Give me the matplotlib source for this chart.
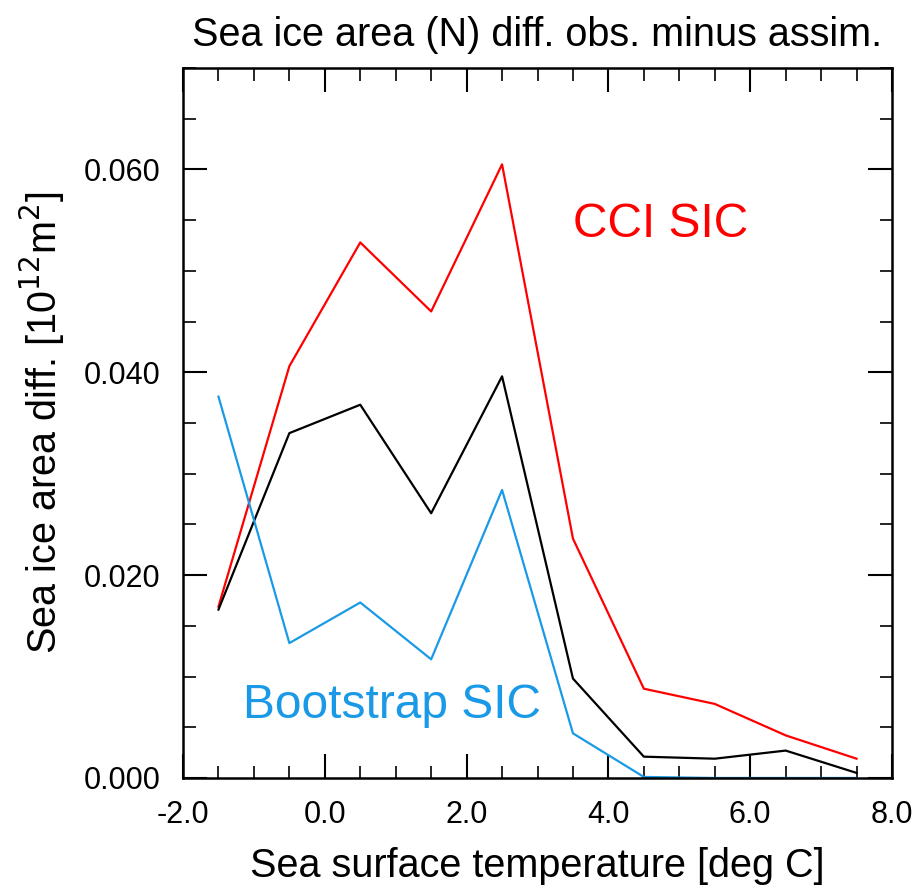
import numpy as np
import matplotlib.pyplot as plt
from matplotlib.ticker import MultipleLocator

plt.rcParams['font.family'] = ['Liberation Sans', 'DejaVu Sans']

sst = [-1.5, -0.5, 0.5, 1.5, 2.5, 3.5, 4.5, 5.5, 6.5, 7.5]
cci = [0.0169, 0.0406, 0.0528, 0.0460, 0.0605, 0.0236, 0.0088, 0.0073, 0.0042, 0.0019]
mean = [0.0166, 0.0340, 0.0368, 0.0261, 0.0396, 0.0098, 0.0021, 0.0019, 0.0027, 0.0005]
boot = [0.0376, 0.0133, 0.0173, 0.0117, 0.0284, 0.0044, 0.0001, 0.0, 0.0, 0.0]

blue = '#1a9ae6'

fig = plt.figure(figsize=(9.16, 8.89), dpi=100)
ax = fig.add_axes([0.1998, 0.1249, 0.774, 0.7986])

ax.plot(sst, cci, color='red', lw=1.6)
ax.plot(sst, mean, color='black', lw=1.6)
ax.plot(sst, boot, color=blue, lw=1.6)

ax.set_xlim(-2, 8)
ax.set_ylim(0, 0.07)
ax.xaxis.set_major_locator(MultipleLocator(2))
ax.xaxis.set_minor_locator(MultipleLocator(0.5))
ax.yaxis.set_major_locator(MultipleLocator(0.02))
ax.yaxis.set_minor_locator(MultipleLocator(0.005))
ax.xaxis.set_major_formatter(lambda v, p: '%.1f' % v)
ax.yaxis.set_major_formatter(lambda v, p: '%.3f' % v)

ax.tick_params(which='both', direction='in', top=True, right=True, labelsize=22)
ax.tick_params(axis='x', which='major', pad=16)
ax.tick_params(axis='y', which='major', pad=16)
ax.tick_params(which='major', length=17, width=1.5)
ax.tick_params(which='minor', length=9, width=1.2)
for s in ax.spines.values():
    s.set_linewidth(1.8)

ax.text(4.74, 0.0533, 'CCI SIC', color='red', fontsize=34.5, ha='center', va='baseline')
ax.text(0.95, 0.0059, 'Bootstrap SIC', color=blue, fontsize=34.5, ha='center', va='baseline')

ax.set_title('Sea ice area (N) diff. obs. minus assim.', fontsize=28.5, pad=16)
ax.set_xlabel('Sea surface temperature [deg C]', fontsize=28.5, labelpad=12)
ax.set_ylabel('Sea ice area diff. [10$^{12}$m$^2$]', fontsize=28.5, labelpad=12)

fig.savefig('out.png', dpi=100)
